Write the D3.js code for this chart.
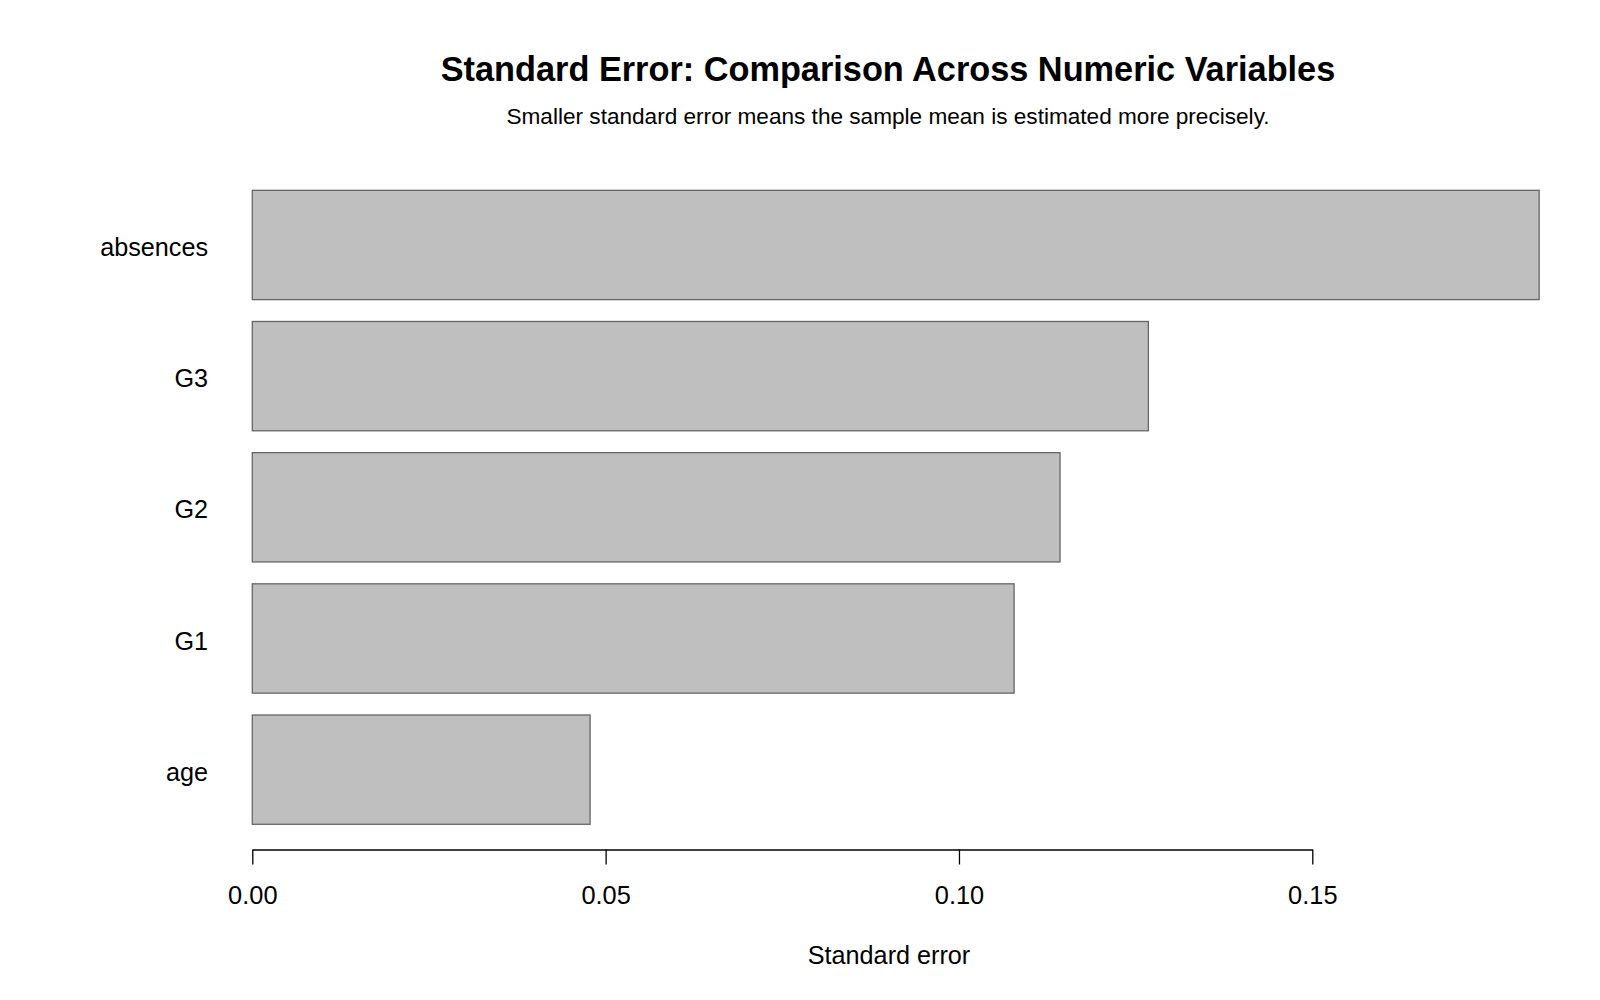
<!DOCTYPE html>
<html>
<head>
<meta charset="utf-8">
<script src="https://cdn.jsdelivr.net/npm/d3@7"></script>
<style>
  body { margin: 0; background: #fff; }
  svg text { font-family: "Liberation Sans", Arial, sans-serif; fill: #000; }
</style>
</head>
<body>
<div id="chart"></div>
<script>
// standard error per numeric variable (top to bottom)
const variables = ['absences', 'G3', 'G2', 'G1', 'age'];
const stdErrors = [0.1821, 0.1268, 0.1143, 0.1078, 0.0478];
const xTicks = [0, 0.05, 0.10, 0.15];

const width = 1600, height = 1000;

const svg = d3.select('#chart')
    .append('svg')
    .attr('width', width)
    .attr('height', height);

const x = d3.scaleLinear()
    .domain([0, 0.15])
    .range([252.3, 1312.3]);

const y = d3.scaleBand()
    .domain(variables)
    .range([190.3, 824.3])
    .paddingInner(1 / 6)
    .paddingOuter(0);

const data = variables.map((v, i) => ({ name: v, se: stdErrors[i] }));

// bars
svg.selectAll('.bar')
    .data(data)
    .enter()
    .append('rect')
    .attr('class', 'bar')
    .attr('x', x(0))
    .attr('y', d => y(d.name))
    .attr('width', d => x(d.se) - x(0))
    .attr('height', y.bandwidth())
    .attr('fill', '#bfbfbf')
    .attr('stroke', '#666')
    .attr('stroke-width', 1.3);

// category labels
svg.selectAll('.cat-label')
    .data(data)
    .enter()
    .append('text')
    .attr('class', 'cat-label')
    .attr('x', 208)
    .attr('y', d => y(d.name) + y.bandwidth() / 2)
    .attr('dy', '0.44em')
    .attr('text-anchor', 'end')
    .attr('font-size', 25.2)
    .text(d => d.name);

// x axis, R style: line only across the ticks
const xAxis = d3.axisBottom(x)
    .tickValues(xTicks)
    .tickFormat(d3.format('.2f'))
    .tickSize(15)
    .tickSizeOuter(0)
    .tickPadding(21);

const gx = svg.append('g')
    .attr('transform', 'translate(0,849.5)')
    .call(xAxis);
gx.select('.domain').attr('stroke', '#000').attr('stroke-width', 1.3);
gx.selectAll('.tick line').attr('stroke', '#000').attr('stroke-width', 1.3);
gx.selectAll('.tick text')
    .attr('font-size', 25.4)
    .attr('font-family', '"Liberation Sans", Arial, sans-serif')
    .attr('fill', '#000');

// axis title
svg.append('text')
    .attr('x', 889)
    .attr('y', 964)
    .attr('text-anchor', 'middle')
    .attr('font-size', 25.2)
    .text('Standard error');

// title + subtitle
svg.append('text')
    .attr('x', 888)
    .attr('y', 81)
    .attr('text-anchor', 'middle')
    .attr('font-size', 34.3)
    .attr('font-weight', 'bold')
    .text('Standard Error: Comparison Across Numeric Variables');

svg.append('text')
    .attr('x', 888)
    .attr('y', 124)
    .attr('text-anchor', 'middle')
    .attr('font-size', 22.6)
    .text('Smaller standard error means the sample mean is estimated more precisely.');
</script>
</body>
</html>
